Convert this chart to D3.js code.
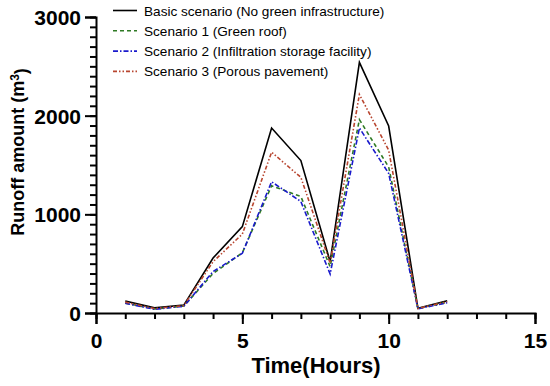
<!DOCTYPE html>
<html>
<head>
<meta charset="utf-8">
<script src="https://cdn.jsdelivr.net/npm/d3@7"></script>
<style>
  body { margin: 0; background: #fff; }
  svg { display: block; font-family: "Liberation Sans", Arial, sans-serif; }
  .axis path, .axis line { stroke: #000; stroke-width: 2; }
  .axis text { font-size: 21px; font-weight: bold; fill: #000; font-family: "Liberation Sans", Arial, sans-serif; }
  .line { fill: none; stroke-width: 1.6; }
</style>
</head>
<body>
<svg></svg>
<script>
var hours = [1, 2, 3, 4, 5, 6, 7, 8, 9, 10, 11, 12];
var basic     = [122, 52, 80, 557, 875, 1875, 1545, 520, 2540, 1895, 48, 125];
var greenRoof = [100, 40, 70, 400, 610, 1290, 1180, 470, 1960, 1480, 45, 108];
var infiltr   = [98, 38, 68, 420, 605, 1330, 1130, 395, 1875, 1415, 42, 104];
var porous    = [110, 45, 75, 520, 800, 1630, 1375, 505, 2215, 1650, 46, 115];

var seriesNames = [
  "Basic scenario (No green infrastructure)",
  "Scenario 1 (Green roof)",
  "Scenario 2 (Infiltration storage facility)",
  "Scenario 3 (Porous pavement)"
];
var seriesValues = [basic, greenRoof, infiltr, porous];
var seriesColors = ["#000000", "#2f7a24", "#1a1acc", "#b8452f"];
var seriesDash = [null, "4,3", "5,2,1.5,2", "4,2,1.5,2,1.5,2"];

var xTicks = [0, 5, 10, 15];
var yTicks = [0, 1000, 2000, 3000];

var width = 550, height = 386;
var svg = d3.select("svg").attr("width", width).attr("height", height);

var x = d3.scaleLinear().domain([0, 15]).range([96, 535]);
var y = d3.scaleLinear().domain([0, 3000]).range([313, 17]);

// minor ticks first
svg.append("g")
    .attr("class", "axis")
    .attr("transform", "translate(0," + y(0) + ")")
    .call(d3.axisBottom(x).tickValues(d3.range(0, 16, 1)).tickSize(6).tickFormat(""))
    .select(".domain").remove();

svg.append("g")
    .attr("class", "axis")
    .attr("transform", "translate(" + x(0) + ",0)")
    .call(d3.axisLeft(y).tickValues(d3.range(0, 3001, 100)).tickSize(6).tickFormat(""))
    .select(".domain").remove();

// major axes
var xAxis = svg.append("g")
    .attr("class", "axis")
    .attr("transform", "translate(0," + y(0) + ")")
    .call(d3.axisBottom(x).tickValues(xTicks).tickFormat(d3.format("d"))
      .tickSizeOuter(0).tickSize(11).tickPadding(4));
xAxis.selectAll("text").attr("dy", "0.95em");

var yAxis = svg.append("g")
    .attr("class", "axis")
    .attr("transform", "translate(" + x(0) + ",0)")
    .call(d3.axisLeft(y).tickValues(yTicks).tickFormat(d3.format("d"))
      .tickSizeOuter(0).tickSize(11).tickPadding(4));
yAxis.selectAll("text").attr("dy", "0.36em");

// axis titles
svg.append("text")
    .attr("x", 316)
    .attr("y", 373)
    .attr("text-anchor", "middle")
    .style("font-size", "22px")
    .style("font-weight", "bold")
    .text("Time(Hours)");

var yl = svg.append("text")
    .attr("transform", "translate(24,152) rotate(-90)")
    .attr("text-anchor", "middle")
    .style("font-size", "18px")
    .style("font-weight", "bold");
yl.append("tspan").text("Runoff amount (m");
yl.append("tspan").attr("dy", "-0.45em").style("font-size", "12px").text("3");
yl.append("tspan").attr("dy", "0.45em").text(")");

// lines
var line = d3.line()
    .x(function(d, i) { return x(hours[i]); })
    .y(function(d) { return y(d); });

seriesValues.forEach(function(vals, i) {
  svg.append("path")
      .datum(vals)
      .attr("class", "line")
      .attr("d", line)
      .style("stroke", seriesColors[i])
      .style("stroke-dasharray", seriesDash[i]);
});

// legend
var legend = svg.append("g");
seriesNames.forEach(function(name, i) {
  var ly = 10.5 + i * 20.3;
  legend.append("line")
      .attr("x1", 113).attr("x2", 137)
      .attr("y1", ly).attr("y2", ly)
      .style("stroke", seriesColors[i])
      .style("stroke-width", 1.6)
      .style("stroke-dasharray", seriesDash[i]);
  legend.append("text")
      .attr("x", 144)
      .attr("y", ly + 5)
      .style("font-size", "13.6px")
      .text(name);
});
</script>
</body>
</html>
